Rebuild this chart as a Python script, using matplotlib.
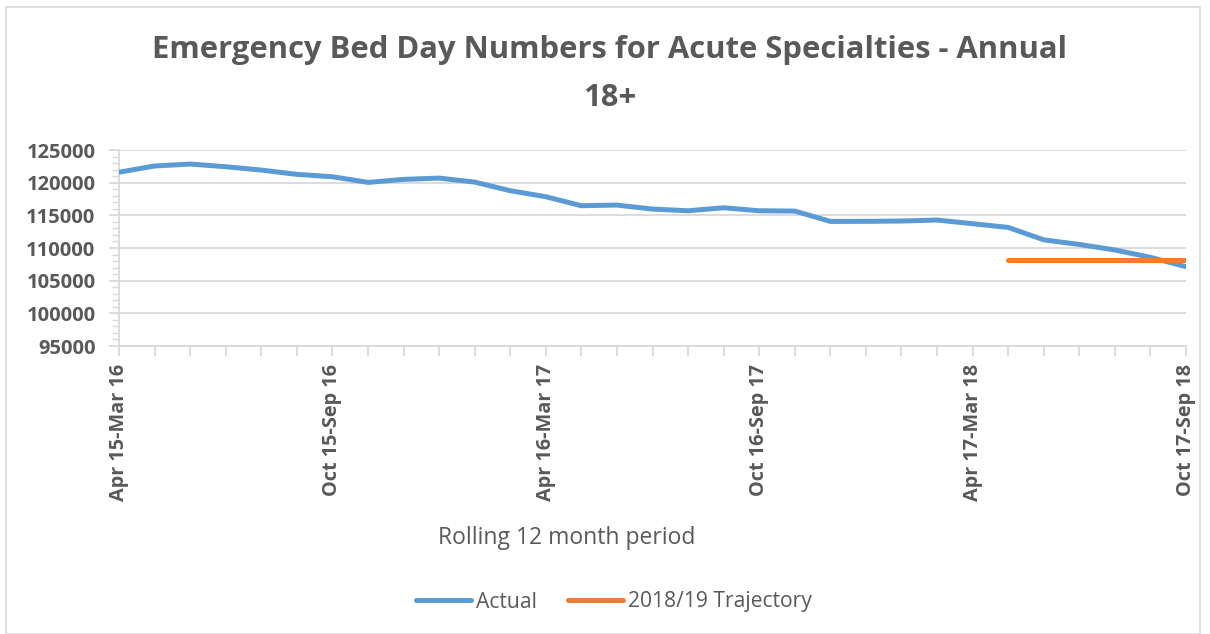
import matplotlib
matplotlib.use("Agg")
import matplotlib.pyplot as plt
from matplotlib.ticker import MultipleLocator, FixedLocator
from matplotlib.patches import Rectangle
from matplotlib.lines import Line2D

periods = ["Apr 15-Mar 16", "May 15-Apr 16", "Jun 15-May 16", "Jul 15-Jun 16", "Aug 15-Jul 16",
           "Sep 15-Aug 16", "Oct 15-Sep 16", "Nov 15-Oct 16", "Dec 15-Nov 16", "Jan 16-Dec 16",
           "Feb 16-Jan 17", "Mar 16-Feb 17", "Apr 16-Mar 17", "May 16-Apr 17", "Jun 16-May 17",
           "Jul 16-Jun 17", "Aug 16-Jul 17", "Sep 16-Aug 17", "Oct 16-Sep 17", "Nov 16-Oct 17",
           "Dec 16-Nov 17", "Jan 17-Dec 17", "Feb 17-Jan 18", "Mar 17-Feb 18", "Apr 17-Mar 18",
           "May 17-Apr 18", "Jun 17-May 18", "Jul 17-Jun 18", "Aug 17-Jul 18", "Sep 17-Aug 18",
           "Oct 17-Sep 18"]
actual = [121600, 122550, 122850, 122440, 121930, 121270, 120910, 120040, 120500, 120700,
          120090, 118770, 117850, 116470, 116570, 115960, 115700, 116160, 115700, 115650,
          114070, 114080, 114130, 114280, 113720, 113150, 111250, 110540, 109700, 108570,
          107140]
trajectory_start = 25
trajectory = [108100] * 6
labeled = ["Apr 15-Mar 16", "Oct 15-Sep 16", "Apr 16-Mar 17", "Oct 16-Sep 17",
           "Apr 17-Mar 18", "Oct 17-Sep 18"]

TXT = "#595959"
GRID = "#D9D9D9"
BLUE = "#5B9BD5"
ORANGE = "#ED7D31"
FONT = ["Open Sans", "DejaVu Sans"]
plt.rcParams["font.family"] = FONT

W, H = 1210, 634
fig = plt.figure(figsize=(W / 100, H / 100), dpi=100)
fig.patches.append(Rectangle((6 / W, 0), 1194 / W, 1 - 6 / H - 0.001, transform=fig.transFigure,
                             fill=False, edgecolor="#D9D9D9", linewidth=1.2))

ax = fig.add_axes([119 / W, 1 - 346 / H, (1186 - 119) / W, (346 - 150) / H])
x = list(range(len(periods)))
ax.plot(x, actual, color=BLUE, linewidth=3.6, solid_capstyle="round", zorder=3)
tx = x[trajectory_start:trajectory_start + len(trajectory)]
ax.plot(tx, trajectory, color=ORANGE, linewidth=3.6, solid_capstyle="round", zorder=4)

ax.set_xlim(0, len(periods) - 1)
ax.set_ylim(95000, 125000)
ax.yaxis.set_major_locator(MultipleLocator(5000))
ax.yaxis.set_minor_locator(MultipleLocator(1000))
ax.xaxis.set_major_locator(FixedLocator(x))
ax.set_xticklabels([p if p in labeled else "" for p in periods], rotation=90,
                   fontsize=14.3, fontweight="bold", color=TXT)
for lab in ax.get_yticklabels():
    lab.set_fontsize(14.5)
    lab.set_fontweight("bold")
    lab.set_color(TXT)
ax.grid(axis="y", which="major", color=GRID, linewidth=1.3, zorder=0)
for s in ["top", "right"]:
    ax.spines[s].set_visible(False)
for s in ["left", "bottom"]:
    ax.spines[s].set_color(GRID)
    ax.spines[s].set_linewidth(1.3)
ax.tick_params(axis="both", which="major", color=GRID, width=1.3, length=7)
ax.tick_params(axis="x", which="major", pad=6)
ax.tick_params(axis="y", which="major", pad=10)
ax.tick_params(axis="y", which="minor", color=GRID, width=1.0, length=5)

fig.text(610 / W, 1 - 50 / H, "Emergency Bed Day Numbers for Acute Specialties - Annual",
         ha="center", va="center", fontsize=22.3, fontweight="bold", color=TXT)
fig.text(610 / W, 1 - 98 / H, "18+", ha="center", va="center", fontsize=22.3,
         fontweight="bold", color=TXT)
fig.text(567 / W, 1 - 538 / H, "Rolling 12 month period", ha="center", va="center",
         fontsize=16.5, color=TXT)

handles = [Line2D([], [], color=BLUE, linewidth=3.6, solid_capstyle="round"),
           Line2D([], [], color=ORANGE, linewidth=3.6, solid_capstyle="round")]
fig.legend(handles, ["Actual", "2018/19 Trajectory"], loc="center",
           bbox_to_anchor=(614 / W, 1 - 602 / H), ncol=2, frameon=False,
           fontsize=15.2, labelcolor=TXT, handlelength=2.6, handletextpad=0.25,
           columnspacing=1.45)

fig.savefig("out.png", dpi=100)
